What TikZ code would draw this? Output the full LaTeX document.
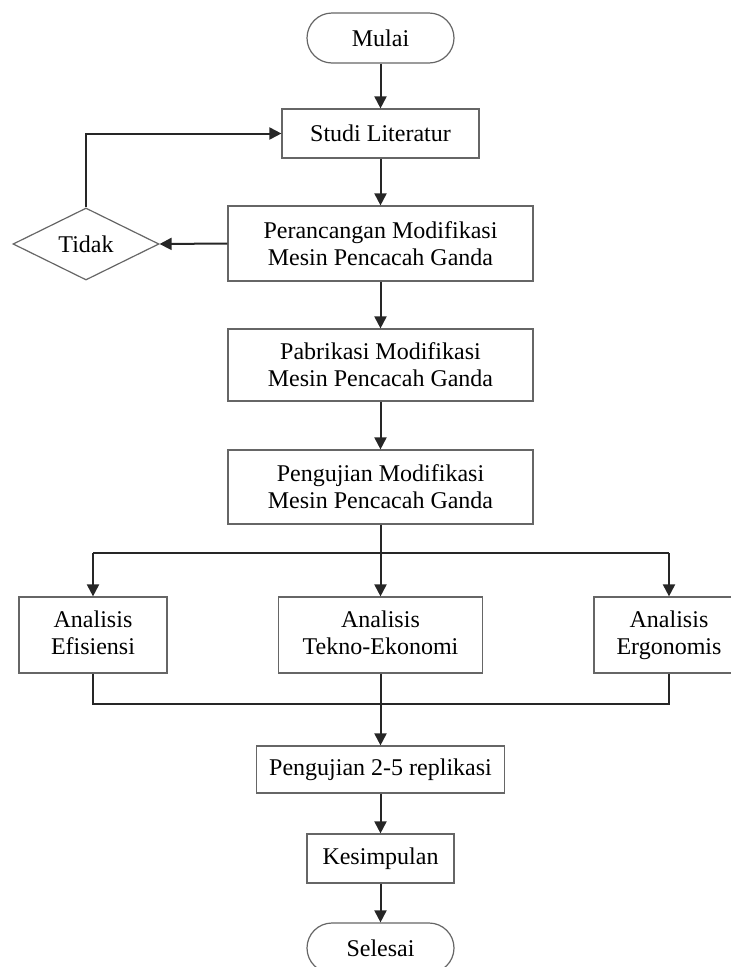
\documentclass[tikz,border=0pt]{standalone}
\usepackage{fontspec}
\setmainfont{Liberation Serif}
\usepackage{tikz}
\usetikzlibrary{shapes.geometric,arrows.meta}

\begin{document}
\begin{tikzpicture}[x=1pt,y=-1pt]
 \tikzset{
  box/.style={draw=gray!80!black,line width=1.2pt,fill=white,align=center,
   inner sep=0pt,font=\fontsize{24}{27}\selectfont},
  anbox/.style={box,minimum height=76pt,execute at end node=\vphantom{g}},
  term/.style={box,rounded corners=25pt,minimum width=147pt,minimum height=50pt},
  dec/.style={box,diamond,minimum width=146pt,minimum height=72pt},
  flow/.style={draw=black!85,line width=2pt},
  arr/.style={flow,-{Triangle[length=12pt,width=12pt]}}}
 \useasboundingbox (0,0) rectangle (731,967);
 \node[term](mulai) at (380.5,38){Mulai};
 \node[box,minimum width=197pt,minimum height=49pt](studi) at (380.5,133.5){Studi Literatur};
 \node[box,minimum width=305pt,minimum height=75pt](ranc) at (380.5,243.5){Perancangan Modifikasi\\Mesin Pencacah Ganda};
 \node[dec](tidak) at (86,244){Tidak};
 \node[box,minimum width=305pt,minimum height=72pt](pabr) at (380.5,365){Pabrikasi Modifikasi\\Mesin Pencacah Ganda};
 \node[box,minimum width=305pt,minimum height=74pt](uji) at (380.5,487){Pengujian Modifikasi\\Mesin Pencacah Ganda};
 \node[anbox,minimum width=148pt](efi) at (93,635){Analisis\\Efisiensi};
 \node[anbox,minimum width=204pt](tek) at (380.5,635){Analisis\\Tekno-Ekonomi};
 \node[anbox,minimum width=150pt](erg) at (669,635){Analisis\\Ergonomis};
 \node[box,minimum width=248pt,minimum height=47pt](rep) at (380.5,769.5){Pengujian 2-5 replikasi};
 \node[box,minimum width=147pt,minimum height=49pt](kes) at (380.5,858.5){Kesimpulan};
 \node[term](sel) at (380.5,948){Selesai};
 \coordinate(br) at (380.5,553);
 \coordinate(mg) at (380.5,704);
 \draw[arr](mulai)--(studi);
 \draw[arr](studi)--(ranc);
 \draw[arr](ranc)--(pabr);
 \draw[arr](pabr)--(uji);
 \draw[arr](ranc.west)--(tidak.east);
 \draw[arr](tidak.north)|-(studi.west);
 \draw[flow](uji.south)--(br);
 \draw[flow](efi.north|-br)--(erg.north|-br);
 \draw[arr](efi.north|-br)--(efi.north);
 \draw[arr](br)--(tek.north);
 \draw[arr](erg.north|-br)--(erg.north);
 \draw[flow](efi.south)|-(mg);
 \draw[flow](erg.south)|-(mg);
 \draw[arr](tek.south)--(rep.north);
 \draw[arr](rep)--(kes);
 \draw[arr](kes)--(sel);
\end{tikzpicture}
\end{document}
